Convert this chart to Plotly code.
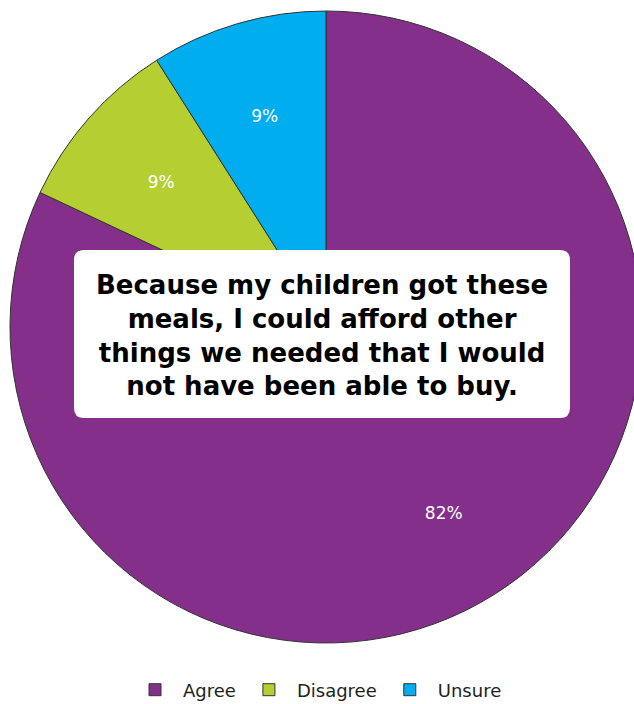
import plotly.graph_objects as go

# ---- data ----
categories = ["Agree", "Disagree", "Unsure"]
values = [82, 9, 9]
colors = ["#84308A", "#B5CF33", "#00AEEF"]
statement = ("Because my children got these<br>meals, I could afford other<br>"
             "things we needed that I would<br>not have been able to buy.")

# ---- layout geometry (pixels) ----
W, H = 652, 704
ML, MR, MT, MB = 10, 10, 11, 61
PW, PH = W - ML - MR, H - MT - MB
R = PW / 2           # pie radius in px
R_LABEL = 281        # radius of the transparent label ring


def px_x(x):
    return (x - ML) / PW


def px_y(y):
    return (H - MB - y) / PH


def rounded_rect(x0, y0, x1, y1, r):
    X0, X1 = px_x(x0), px_x(x1)
    Y0, Y1 = px_y(y0), px_y(y1)  # Y0 top, Y1 bottom
    rx, ry = r / PW, r / PH
    return (f"M {X0+rx},{Y0} L {X1-rx},{Y0} Q {X1},{Y0} {X1},{Y0-ry} "
            f"L {X1},{Y1+ry} Q {X1},{Y1} {X1-rx},{Y1} "
            f"L {X0+rx},{Y1} Q {X0},{Y1} {X0},{Y1+ry} "
            f"L {X0},{Y0-ry} Q {X0},{Y0} {X0+rx},{Y0} Z")


lo = (R - R_LABEL) / PW
hi = (R + R_LABEL) / PW

fig = go.Figure()
# main pie
fig.add_trace(go.Pie(
    labels=categories,
    values=values,
    sort=False,
    direction="clockwise",
    rotation=0,
    marker=dict(colors=colors, line=dict(color="#333333", width=1)),
    textinfo="none",
    hoverinfo="label+percent",
))
# transparent ring that carries the percentage labels
fig.add_trace(go.Pie(
    labels=categories,
    values=values,
    sort=False,
    direction="clockwise",
    rotation=0,
    hole=0.564,
    domain=dict(x=[lo, hi], y=[lo, hi]),
    marker=dict(colors=["rgba(0,0,0,0)"] * 3, line=dict(width=0)),
    texttemplate="%{value}%",
    textposition="inside",
    insidetextorientation="horizontal",
    textfont=dict(family="DejaVu Sans", size=17, color="white"),
    hoverinfo="skip",
    showlegend=False,
))

fig.update_layout(
    width=W, height=H,
    margin=dict(l=ML, r=MR, t=MT, b=MB),
    paper_bgcolor="white",
    plot_bgcolor="white",
    showlegend=True,
    legend=dict(
        orientation="h",
        x=px_x(317), xanchor="center", xref="paper",
        y=(H - 690) / H, yanchor="middle", yref="container",
        font=dict(family="DejaVu Sans", size=18, color="#231F20"),
        traceorder="normal",
        itemwidth=46,
    ),
    shapes=[dict(
        type="path",
        path=rounded_rect(74, 250, 570, 418, 10),
        xref="paper", yref="paper",
        fillcolor="white",
        line=dict(width=0),
        layer="above",
    )],
    annotations=[dict(
        text=statement,
        x=px_x(322), y=px_y(335),
        xref="paper", yref="paper",
        xanchor="center", yanchor="middle",
        showarrow=False,
        align="center",
        font=dict(family="DejaVu Sans", size=26, color="black", weight="bold"),
    )],
)

fig.write_html(
    "out.html",
    post_script="document.body.style.overflow='hidden';"
                "document.documentElement.style.overflow='hidden';",
)
